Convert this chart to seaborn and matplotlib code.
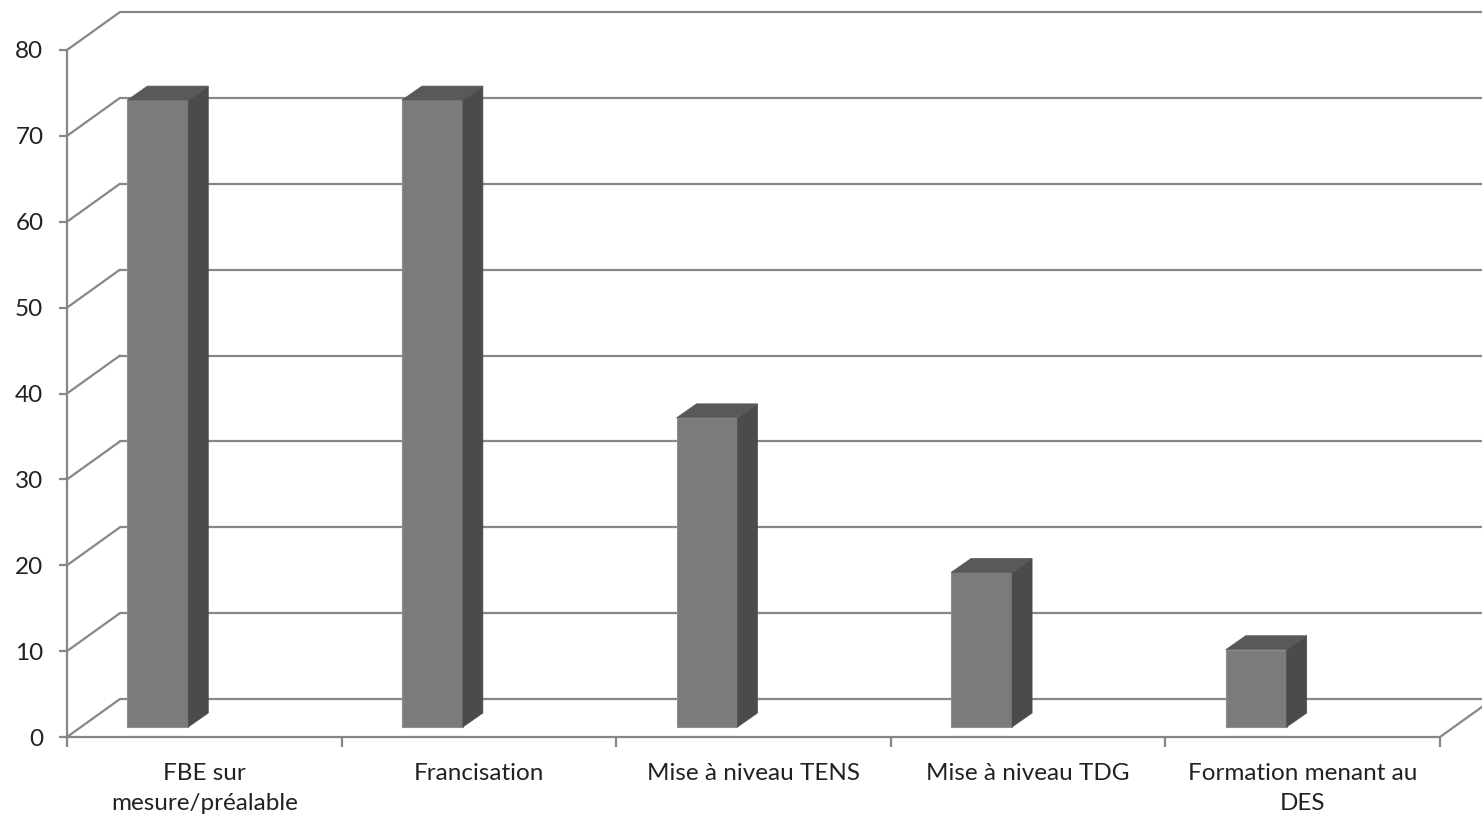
import numpy as np
import pandas as pd
import matplotlib
matplotlib.use("Agg")
import matplotlib.pyplot as plt
import seaborn as sns
from matplotlib.patches import Polygon
from matplotlib.transforms import ScaledTranslation, IdentityTransform

# =====================================================
# DATA
# =====================================================

categories = [
    "FBE sur\nmesure/préalable",
    "Francisation",
    "Mise à niveau TENS",
    "Mise à niveau TDG",
    "Formation menant au\nDES",
]
values = [73, 73, 36, 18, 9]
y_ticks = list(range(0, 81, 10))

df = pd.DataFrame({"formation": categories, "valeur": values})

# =====================================================
# STYLE
# =====================================================

sns.set_theme(style="white")
plt.rcParams["font.family"] = ["Lato", "DejaVu Sans"]

W, H = 1482, 819
DPI = 100
GRID = "#878787"
FRONT = "#7b7b7c"
SIDE = "#4b4b4d"
TOP = "#59595b"

# depth offsets in pixels
WALL_DX, WALL_DY = 53, 38     # back wall vs front plane
BAR_DX, BAR_DY = -46.5, 10    # bar front face vs front plane
DEPTH_DX, DEPTH_DY = 20, 14   # bar depth

fig = plt.figure(figsize=(W / DPI, H / DPI), dpi=DPI)
ax = fig.add_axes([67 / W, (H - 737) / H, (1440 - 67) / W, (737 - 50) / H])

def offset(dx, dy):
    return ax.transData + ScaledTranslation(dx / DPI, dy / DPI, fig.dpi_scale_trans)

# =====================================================
# BARS
# =====================================================

sns.barplot(
    data=df,
    x="formation",
    y="valeur",
    color=FRONT,
    saturation=1,
    width=0.222,
    edgecolor="#8e8e8f",
    linewidth=0.8,
    ax=ax,
    zorder=3,
)

ax.set_xlim(-0.5, len(categories) - 0.5)
ax.set_ylim(0, 80)

bar_tr = offset(BAR_DX, BAR_DY)
for p in ax.patches:
    p.set_transform(bar_tr)
    p.set_clip_on(False)
    x0, y0 = bar_tr.transform((p.get_x(), 0))
    x1, y1 = bar_tr.transform((p.get_x() + p.get_width(), p.get_height()))
    side = Polygon(
        [(x1, y0), (x1 + DEPTH_DX, y0 + DEPTH_DY),
         (x1 + DEPTH_DX, y1 + DEPTH_DY), (x1, y1)],
        closed=True, facecolor=SIDE, edgecolor=SIDE, linewidth=0.5,
        transform=IdentityTransform(), zorder=3,
    )
    top = Polygon(
        [(x0, y1), (x0 + DEPTH_DX, y1 + DEPTH_DY),
         (x1 + DEPTH_DX, y1 + DEPTH_DY), (x1, y1)],
        closed=True, facecolor=TOP, edgecolor=TOP, linewidth=0.5,
        transform=IdentityTransform(), zorder=3,
    )
    fig.add_artist(side)
    fig.add_artist(top)

# =====================================================
# 3D FRAME / GRID
# =====================================================

wall_tr = offset(WALL_DX, WALL_DY)
x_left, x_right = -0.5, len(categories) - 0.5

for v in y_ticks:
    # back wall gridline
    ax.plot([x_left, x_right + 0.5], [v, v], color=GRID, lw=1.6,
            transform=wall_tr, clip_on=False, zorder=1)
    # slanted line from front axis to back wall
    fx, fy = ax.transData.transform((x_left, v))
    ax.plot([fx, fx + WALL_DX], [fy, fy + WALL_DY], color=GRID, lw=1.6,
            transform=IdentityTransform(), clip_on=False, zorder=1)

# right floor edge
fx, fy = ax.transData.transform((x_right, 0))
ax.plot([fx, fx + WALL_DX], [fy, fy + WALL_DY], color=GRID, lw=1.6,
        transform=IdentityTransform(), clip_on=False, zorder=1)

# front axes lines
for s in ["top", "right"]:
    ax.spines[s].set_visible(False)
for s in ["left", "bottom"]:
    ax.spines[s].set_color(GRID)
    ax.spines[s].set_linewidth(1.6)

ax.set_yticks(y_ticks)
ax.set_xticks(range(len(categories)))
ax.set_xticklabels(categories)
ax.set_xticks(np.arange(-0.5, len(categories), 1.0), minor=True)
ax.tick_params(axis="y", which="major", left=True, length=6, width=1.6,
               color=GRID, labelsize=17.5, labelcolor="#222222", pad=11)
ax.tick_params(axis="x", which="major", bottom=False, length=0,
               labelsize=17.5, labelcolor="#222222", pad=19)
ax.tick_params(axis="x", which="minor", bottom=True, length=7, width=1.6,
               color=GRID)
for lbl in ax.get_xticklabels():
    lbl.set_linespacing(1.5)

ax.set_xlabel("")
ax.set_ylabel("")
ax.patch.set_alpha(0)

fig.savefig("out.png", dpi=DPI)
